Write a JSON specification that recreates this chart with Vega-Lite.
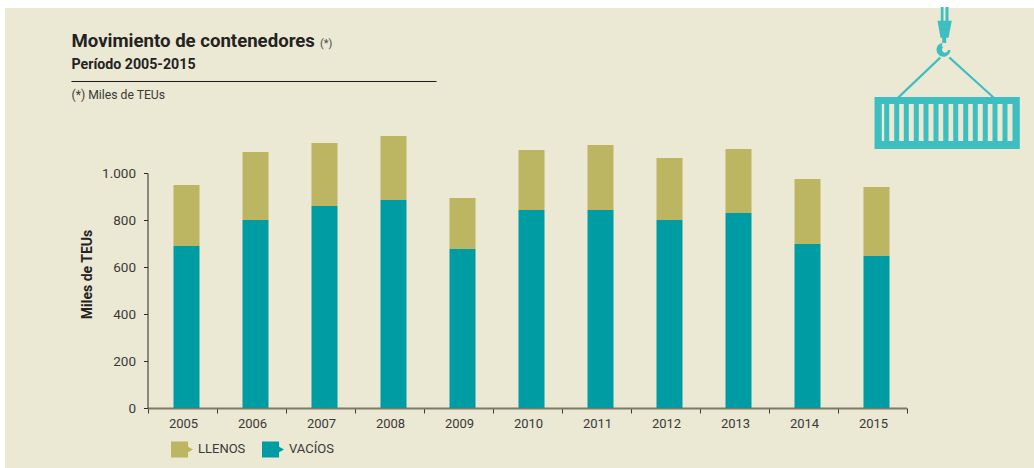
{
"$schema":"https://vega.github.io/schema/vega-lite/v6.json",
"width":1029,"height":460,
"autosize":{"type":"none"},
"padding":{"left":5,"top":8,"right":0,"bottom":0},
"background":"#ffffff",
"config":{"view":{"fill":"#ebe8d4","stroke":null},"font":"Roboto"},
"layer":[
{"data":{"values":[
{"year":"2005","tipo":"VACÍOS","teus":689},{"year":"2005","tipo":"LLENOS","teus":260},
{"year":"2006","tipo":"VACÍOS","teus":800},{"year":"2006","tipo":"LLENOS","teus":289},
{"year":"2007","tipo":"VACÍOS","teus":860},{"year":"2007","tipo":"LLENOS","teus":268},
{"year":"2008","tipo":"VACÍOS","teus":885},{"year":"2008","tipo":"LLENOS","teus":272},
{"year":"2009","tipo":"VACÍOS","teus":677},{"year":"2009","tipo":"LLENOS","teus":217},
{"year":"2010","tipo":"VACÍOS","teus":843},{"year":"2010","tipo":"LLENOS","teus":255},
{"year":"2011","tipo":"VACÍOS","teus":843},{"year":"2011","tipo":"LLENOS","teus":276},
{"year":"2012","tipo":"VACÍOS","teus":800},{"year":"2012","tipo":"LLENOS","teus":264},
{"year":"2013","tipo":"VACÍOS","teus":830},{"year":"2013","tipo":"LLENOS","teus":272},
{"year":"2014","tipo":"VACÍOS","teus":698},{"year":"2014","tipo":"LLENOS","teus":276},
{"year":"2015","tipo":"VACÍOS","teus":647},{"year":"2015","tipo":"LLENOS","teus":293}
]},
"mark":{"type":"bar","width":26,"xOffset":4.5},
"encoding":{
"x":{"field":"year","type":"nominal","scale":{"range":[142.5,901.5],"paddingInner":0,"paddingOuter":0},
"axis":{"orient":"bottom","offset":-60,"title":null,"labelAngle":0,"labelFont":"Roboto","labelFontSize":13,"labelColor":"#3a3a38","labelPadding":4,"labelOffset":1,"tickBand":"extent","tickColor":"#3a3a36","tickSize":5,"tickWidth":1,"domainColor":"#7d7a68","domainWidth":2,"grid":false}},
"y":{"field":"teus","type":"quantitative","stack":"zero","scale":{"domain":[0,1000],"range":[400,165],"nice":false},
"axis":{"orient":"left","offset":-142.5,"values":[0,200,400,600,800,1000],"labelExpr":"replace(datum.label, ',', '.')","title":"Miles de TEUs","titleFont":"Roboto","titleFontSize":14,"titleFontWeight":"bold","titleColor":"#222222","titleX":-53,"titleY":266,"labelFont":"Roboto","labelFontSize":13.5,"labelColor":"#3a3a38","labelPadding":8,"tickColor":"#2b2b2a","tickSize":4,"tickWidth":1,"domainColor":"#2b2b2a","domainWidth":1,"grid":false}},
"color":{"field":"tipo","type":"nominal","scale":{"domain":["LLENOS","VACÍOS"],"range":["#bcb663","#009ca3"]},
"legend":{"orient":"none","legendX":166,"legendY":430,"direction":"horizontal","title":null,"symbolType":"M-1,-0.73H0.55V-0.25L1,0L0.55,0.25V0.73H-1Z","symbolSize":484,"symbolStrokeWidth":0,"labelFont":"Roboto","labelFontSize":13,"labelColor":"#3a3a38","columnPadding":16,"labelOffset":5}},
"order":{"field":"tipo","type":"nominal","sort":"descending"}
}},
{"data":{"values":[{"texto":"Movimiento de contenedores"}]},
"mark":{"type":"text","align":"left","baseline":"alphabetic","xOffset":-110.5,"fontSize":18.6,"fontWeight":"bold","font":"Roboto","color":"#232321"},
"encoding":{"x":{"datum":"2005","type":"nominal"},"y":{"datum":1536,"type":"quantitative"},"text":{"field":"texto"}}},
{"data":{"values":[{"texto":"(*)"}]},
"mark":{"type":"text","align":"left","baseline":"alphabetic","xOffset":138,"fontSize":11,"font":"Roboto","color":"#4a4a48"},
"encoding":{"x":{"datum":"2005","type":"nominal"},"y":{"datum":1536,"type":"quantitative"},"text":{"field":"texto"}}},
{"data":{"values":[{"texto":"Período 2005-2015"}]},
"mark":{"type":"text","align":"left","baseline":"alphabetic","xOffset":-110.5,"fontSize":14.2,"fontWeight":"bold","font":"Roboto","color":"#232321"},
"encoding":{"x":{"datum":"2005","type":"nominal"},"y":{"datum":1443,"type":"quantitative"},"text":{"field":"texto"}}},
{"data":{"values":[{"texto":"(*) Miles de TEUs"}]},
"mark":{"type":"text","align":"left","baseline":"alphabetic","xOffset":-110.5,"fontSize":12.2,"font":"Roboto","color":"#3a3a38"},
"encoding":{"x":{"datum":"2005","type":"nominal"},"y":{"datum":1315,"type":"quantitative"},"text":{"field":"texto"}}},
{"data":{"values":[{"linea":"cabecera"}]},
"mark":{"type":"rule","color":"#1a1a1a","strokeWidth":1,"xOffset":-110.5,"x2Offset":47.5},
"encoding":{"x":{"datum":"2005","type":"nominal"},"x2":{"datum":"2008"},"y":{"datum":1389.4,"type":"quantitative"}}},
{"data":{"values":[{"icono":"contenedor"}]},
"mark":{"type":"point","filled":true,"color":"#3dbfc2","opacity":1,"size":40000,"strokeWidth":0,"xOffset":75.5,
"shape":"M-.73,.19H-.503L-.08,-.213L-.063,-.198L-.47,.19H.44L.01,-.198L.027,-.213L.47,.19H.723V.71H-.73ZM-.657,.26V.63H-.633V.26ZM-.583,.26V.63H-.533V.26ZM-.483,.26V.63H-.437V.26ZM-.387,.26V.63H-.337V.26ZM-.287,.26V.63H-.24V.26ZM-.19,.26V.63H-.14V.26ZM-.09,.26V.63H-.043V.26ZM.01,.26V.63H.057V.26ZM.107,.26V.63H.157V.26ZM.207,.26V.63H.253V.26ZM.303,.26V.63H.353V.26ZM.403,.26V.63H.45V.26ZM.5,.26V.63H.55V.26ZM.6,.26V.63H.65V.26ZM-.067,-.71H-.04V-.573H-.067ZM-.02,-.71H.01V-.573H-.02ZM-.1,-.573H.043L.01,-.403H-.07ZM-.053,-.403H-.013V-.347A.07,.07 0 1 0 .03,-.28L.005,-.28A.03,.03 0 1 1 -.04,-.31L-.053,-.31Z"},
"encoding":{"x":{"datum":"2015","type":"nominal"},"y":{"datum":1404,"type":"quantitative"}}}
]
}
